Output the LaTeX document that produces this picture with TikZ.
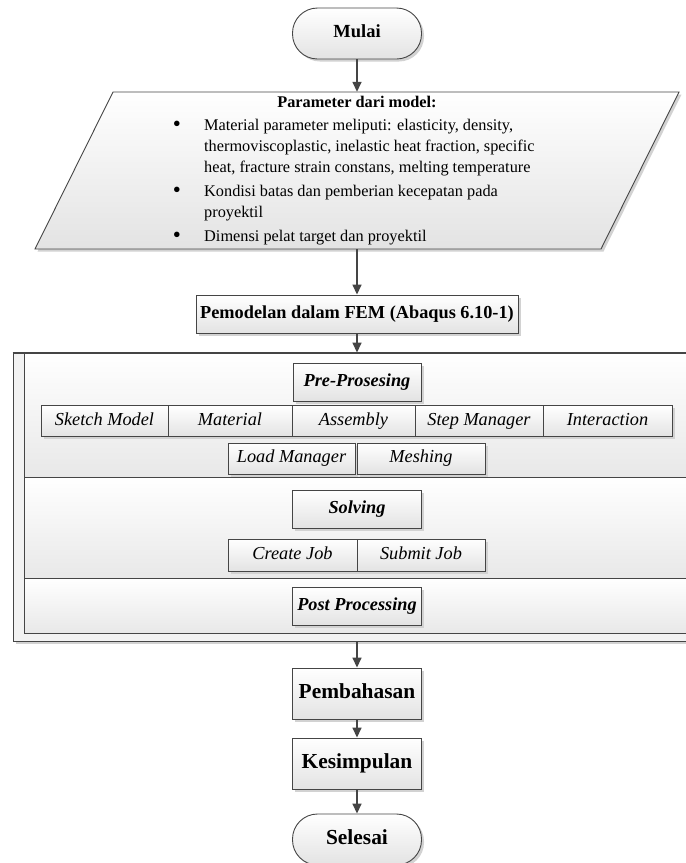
\documentclass[tikz,border=0pt]{standalone}
\usepackage{fontspec}
\setmainfont{Liberation Serif}
\usetikzlibrary{arrows.meta,shadows}
\definecolor{ln}{HTML}{454545}
\definecolor{shd}{HTML}{D2D2D2}
\newcommand\myfs[1]{\fontsize{#1}{#1}\selectfont}
\begin{document}
\begin{tikzpicture}[x=1pt,y=-1pt,
  box/.style={draw=ln, line width=0.9pt, top color=white, bottom color=black!11,
    minimum width=129pt, minimum height=38pt, inner sep=0pt,
    text height=12.6pt, text depth=4pt,
    drop shadow={shadow xshift=2.5pt, shadow yshift=-2.5pt, fill=shd, opacity=1}},
  subbox/.style={box, minimum height=31pt, font=\myfs{18.3}\itshape},
  headbox/.style={box, font=\myfs{18.3}\bfseries\itshape},
  term/.style={box, minimum height=51pt, rounded corners=25pt},
  bigbox/.style={box, minimum height=51pt, text height=14.6pt, text depth=4.6pt, font=\myfs{21.4}\bfseries},
  lane/.style={draw=ln, line width=0.9pt, top color=white, bottom color=black!9, inner sep=0pt, minimum width=676pt},
  txt/.style={anchor=base west, inner sep=0pt, font=\myfs{16.3}},
  bul/.style={anchor=base, inner sep=0pt, font=\myfs{23}},
  arr/.style={draw=ln, line width=1.5pt, -{Triangle[length=10pt,width=9pt]}}]
\clip (0,0) rectangle (686,863);
\fill[white] (0,0) rectangle (686,863);

% start
\node[term, font=\myfs{18.5}\bfseries] (mulai) at (357,33.5) {Mulai};

% input parallelogram
\node[minimum width=644pt, minimum height=157pt, inner sep=0pt] (par) at (357,170.5) {};
\fill[shd] (115.5,94.5) -- (681.5,94.5) -- (603.5,251.5) -- (37.5,251.5) -- cycle;
\shade[top color=white, bottom color=black!11] (113,92) -- (679,92) -- (601,249) -- (35,249) -- cycle;
\draw[ln, line width=0.9pt] (113,92) -- (679,92) -- (601,249) -- (35,249) -- cycle;
\node[anchor=base, inner sep=0pt, font=\myfs{16.3}\bfseries] (ptitle) at (357,107) {Parameter dari model:};
\node[bul] (bu1) at (177,131) {\textbullet};
\node[txt] (l1) at (204,130) {Material parameter meliputi: elasticity, density,};
\node[txt] (l2) at (204,151) {thermoviscoplastic, inelastic heat fraction, specific};
\node[txt] (l3) at (204,172) {heat, fracture strain constans, melting temperature};
\node[bul] (bu2) at (177,197.5) {\textbullet};
\node[txt] (l4) at (204,196.5) {Kondisi batas dan pemberian kecepatan pada};
\node[txt] (l5) at (204,217.5) {proyektil};
\node[bul] (bu3) at (177,242.5) {\textbullet};
\node[txt] (l6) at (204,241.5) {Dimensi pelat target dan proyektil};

% FEM box
\node[box, minimum width=322pt, font=\myfs{18.3}\bfseries] (fem) at (357,314) {Pemodelan dalam FEM (Abaqus 6.10-1)};

% pool with lanes
\node[draw=ln, line width=0.9pt, fill=black!5, inner sep=0pt, minimum width=687pt, minimum height=288pt,
  drop shadow={shadow xshift=2.5pt, shadow yshift=-2.5pt, fill=shd, opacity=1}] (pool) at (356.5,497) {};
\node[lane, minimum height=124pt] (lane1) at (362,415) {};
\node[lane, minimum height=101pt] (lane2) at (362,527.5) {};
\node[lane, minimum height=55pt] (lane3) at (362,605.5) {};
\draw[ln, line width=1.2pt] (pool.north west) -- (pool.north east);

% lane 1
\node[headbox, minimum width=128pt] (pre) at (357,382) {Pre-Prosesing};
\node[subbox, minimum width=127pt] (sketch) at (104.5,421) {Sketch Model};
\node[subbox, minimum width=124pt] (material) at (230,421) {Material};
\node[subbox, minimum width=123pt] (assembly) at (353.5,421) {Assembly};
\node[subbox, minimum width=128pt] (stepm) at (479,421) {Step Manager};
\node[subbox, minimum width=129pt] (interaction) at (607.5,421) {Interaction};
\node[subbox, minimum width=127pt] (loadm) at (291.5,458.5) {Load Manager};
\node[subbox, minimum width=128pt] (meshing) at (421,458.5) {Meshing};

% lane 2
\node[headbox] (solving) at (357,509) {Solving};
\node[subbox, minimum width=129pt, minimum height=32pt] (create) at (292.5,555) {Create Job};
\node[subbox, minimum width=128pt, minimum height=32pt] (submit) at (421,555) {Submit Job};

% lane 3
\node[headbox] (post) at (357,606) {Post Processing};

% end boxes
\node[bigbox] (bahas) at (357,693.5) {Pembahasan};
\node[bigbox] (simpul) at (357,763.5) {Kesimpulan};
\node[term, text height=14.6pt, text depth=4.6pt, font=\myfs{21.4}\bfseries] (selesai) at (357,839.5) {Selesai};

% connectors
\draw[arr] (mulai.south) -- (mulai.south |- par.north);
\draw[arr] (par.south -| fem.north) -- (fem.north);
\draw[arr] (fem.south) -- (fem.south |- pool.north);
\draw[arr] (bahas.north |- pool.south) -- (bahas.north);
\draw[arr] (bahas.south) -- (simpul.north);
\draw[arr] (simpul.south) -- (selesai.north);
\end{tikzpicture}
\end{document}
